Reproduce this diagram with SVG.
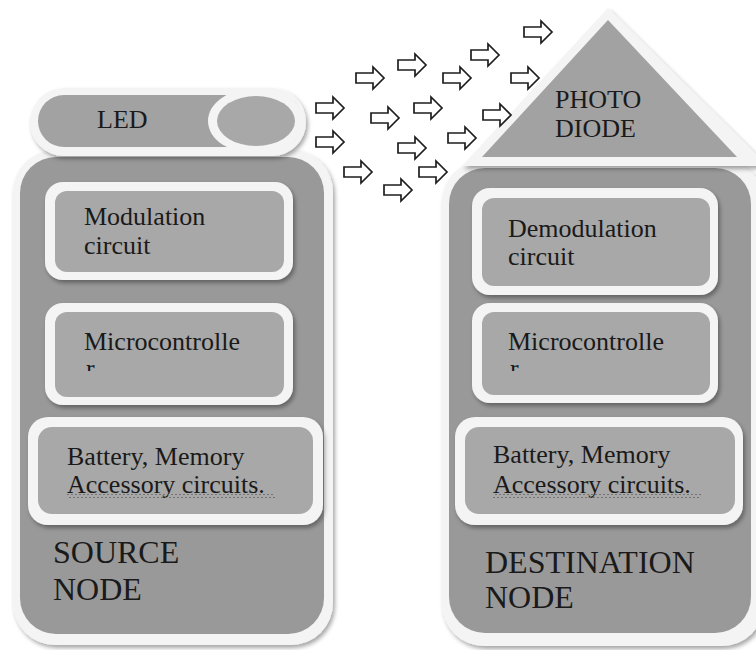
<svg xmlns="http://www.w3.org/2000/svg" width="756" height="650" viewBox="0 0 756 650" font-family="Liberation Serif, Times New Roman, DejaVu Serif, serif">
  <defs>
    <filter id="shadow" x="-10%" y="-10%" width="125%" height="125%">
      <feDropShadow dx="2" dy="3" stdDeviation="2" flood-color="#000" flood-opacity="0.35"/>
    </filter>
    <pattern id="squiggle" width="4" height="4" patternUnits="userSpaceOnUse">
      <path d="M0,3 L2,1 L4,3" fill="none" stroke="#6e6e6e" stroke-width="0.9"/>
    </pattern>
    <path id="signal" d="M-14,-5 H3 V-11 L14,0 L3,11 V5 H-14 Z"/>
    <clipPath id="clip-mc-src"><rect x="55" y="312" width="229" height="59"/></clipPath>
    <clipPath id="clip-mc-dst"><rect x="482" y="312" width="228" height="59"/></clipPath>
  </defs>
  <style>
    .rim { fill: #f4f4f4; filter: url(#shadow); }
    .panel { fill: #999999; }
    .box { fill: #a8a8a8; }
    text { font-size: 26px; fill: #1a1a1a; }
    .big { font-size: 32px; }
    .arrow { fill: #ffffff; stroke: #1e1e1e; stroke-width: 1.7; stroke-linejoin: miter; }
  </style>

  <rect width="756" height="650" fill="#ffffff"/>

  <!-- source node body -->
  <g id="source-node">
    <rect class="rim" x="13" y="150" width="320" height="495" rx="42"/>
    <rect class="panel" x="20" y="157" width="304" height="477" rx="36"/>
    <text class="big" x="53" y="563" font-family="Liberation Serif">SOURCE</text>
    <text class="big" x="53" y="600" font-family="Liberation Serif">NODE</text>
  </g>

  <!-- LED emitter -->
  <g id="led">
    <rect class="rim" x="30" y="88" width="276" height="68" rx="34"/>
    <rect x="38" y="95" width="265" height="52" rx="26" fill="#a2a2a2"/>
    <ellipse cx="256" cy="121" rx="48" ry="33" fill="#f4f4f4"/>
    <ellipse class="box" cx="256" cy="121" rx="39" ry="25"/>
    <text x="97" y="128" font-family="Liberation Serif">LED</text>
  </g>

  <g id="modulation">
    <rect class="rim" x="45" y="182" width="248" height="98" rx="18"/>
    <rect class="box" x="55" y="191" width="229" height="81" rx="12"/>
    <text x="84" y="225" font-family="Liberation Serif">Modulation</text>
    <text x="84" y="254" font-family="Liberation Serif">circuit</text>
  </g>

  <g id="mc-source">
    <rect class="rim" x="45" y="303" width="248" height="102" rx="18"/>
    <rect class="box" x="55" y="312" width="229" height="85" rx="12"/>
    <text x="84" y="350" font-family="Liberation Serif">Microcontrolle</text>
    <text x="86" y="377" font-family="Liberation Serif" clip-path="url(#clip-mc-src)">r</text>
  </g>

  <g id="battery-source">
    <rect class="rim" x="28" y="417" width="295" height="108" rx="20"/>
    <rect class="box" x="38" y="427" width="275" height="87" rx="14"/>
    <text x="67" y="465" font-family="Liberation Serif">Battery, Memory</text>
    <text x="67" y="493" font-family="Liberation Serif">Accessory circuits.</text>
    <rect x="67" y="494" width="208" height="4" fill="url(#squiggle)"/>
  </g>

  <!-- destination node body -->
  <g id="destination-node">
    <rect class="rim" x="442" y="160" width="322" height="486" rx="42"/>
    <rect class="panel" x="449" y="168" width="302" height="465" rx="36"/>
    <text class="big" x="485" y="573" font-family="Liberation Serif">DESTINATION</text>
    <text class="big" x="485" y="608" font-family="Liberation Serif">NODE</text>
  </g>

  <!-- photodiode receiver -->
  <g id="photodiode">
    <polygon class="rim" points="608,8 462,166 768,166"/>
    <polygon points="608,20 482,157 737,157" fill="#a2a2a2"/>
    <text x="555" y="108" font-family="Liberation Serif">PHOTO</text>
    <text x="555" y="137" font-family="Liberation Serif">DIODE</text>
  </g>

  <g id="demodulation">
    <rect class="rim" x="472" y="188" width="246" height="107" rx="18"/>
    <rect class="box" x="482" y="198" width="228" height="88" rx="12"/>
    <text x="508" y="237" font-family="Liberation Serif">Demodulation</text>
    <text x="508" y="265" font-family="Liberation Serif">circuit</text>
  </g>

  <g id="mc-destination">
    <rect class="rim" x="472" y="303" width="246" height="100" rx="18"/>
    <rect class="box" x="482" y="312" width="228" height="83" rx="12"/>
    <text x="508" y="350" font-family="Liberation Serif">Microcontrolle</text>
    <text x="510" y="377" font-family="Liberation Serif" clip-path="url(#clip-mc-dst)">r</text>
  </g>

  <g id="battery-destination">
    <rect class="rim" x="455" y="417" width="288" height="108" rx="20"/>
    <rect class="box" x="465" y="427" width="270" height="87" rx="14"/>
    <text x="493" y="463" font-family="Liberation Serif">Battery, Memory</text>
    <text x="493" y="493" font-family="Liberation Serif">Accessory circuits.</text>
    <rect x="493" y="494" width="208" height="4" fill="url(#squiggle)"/>
  </g>

  <!-- light signals travelling from LED to photodiode -->
  <g id="light-signals" class="arrow">
    <use href="#signal" x="538" y="32"/>
    <use href="#signal" x="485" y="55"/>
    <use href="#signal" x="412" y="65"/>
    <use href="#signal" x="370" y="78"/>
    <use href="#signal" x="457" y="78"/>
    <use href="#signal" x="525" y="78"/>
    <use href="#signal" x="330" y="108"/>
    <use href="#signal" x="428" y="108"/>
    <use href="#signal" x="385" y="118"/>
    <use href="#signal" x="497" y="115"/>
    <use href="#signal" x="330" y="142"/>
    <use href="#signal" x="462" y="138"/>
    <use href="#signal" x="412" y="148"/>
    <use href="#signal" x="358" y="172"/>
    <use href="#signal" x="433" y="172"/>
    <use href="#signal" x="398" y="190"/>
  </g>
</svg>
